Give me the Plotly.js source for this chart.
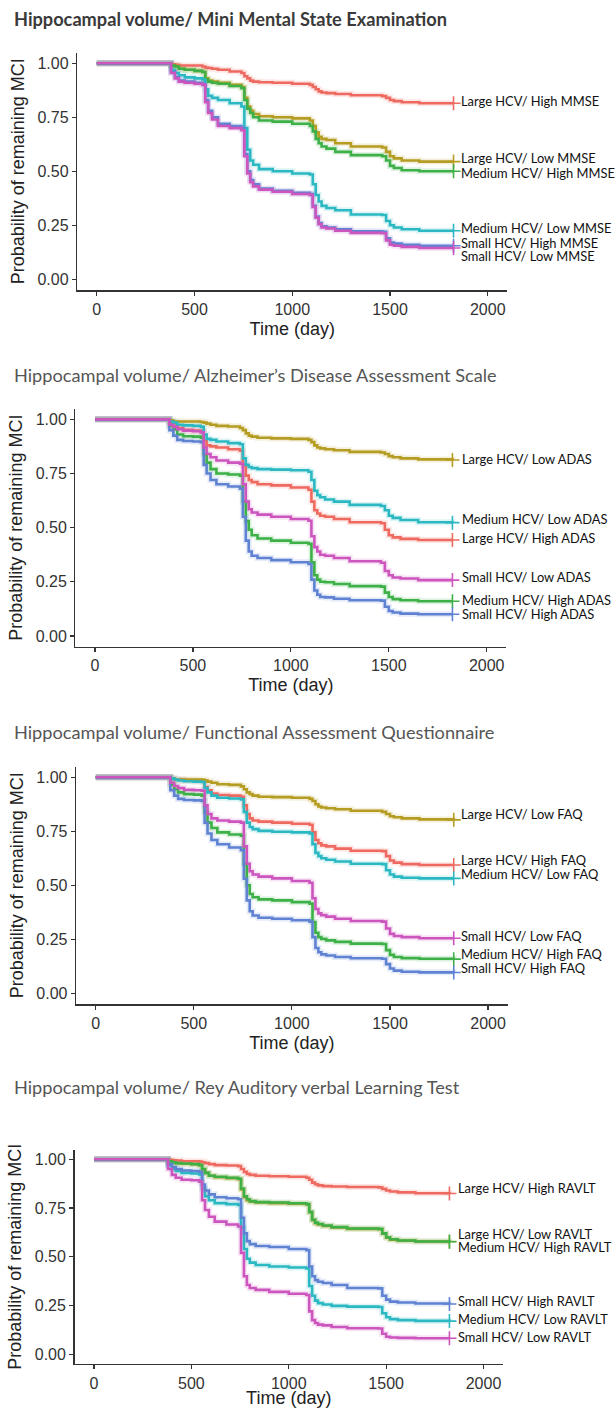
<!DOCTYPE html>
<html>
<head>
<meta charset="utf-8">
<script src="https://cdn.plot.ly/plotly-3.0.1.min.js"></script>
<style>html,body{margin:0;padding:0;background:#fff}#chart{width:616px;height:1408px}</style>
</head>
<body>
<div id="chart"></div>
<script>
// ---------- data ----------
const days = [0,365,380,400,420,450,500,540,555,570,590,620,680,740,755,770,785,800,830,900,1000,1090,1105,1120,1135,1150,1175,1220,1300,1460,1480,1500,1520,1560,1650,1825];
const xTicks = [0,500,1000,1500,2000];
const yTicks = [0,0.25,0.5,0.75,1];
const yTickText = ["0.00","0.25","0.50","0.75","1.00"];

// Panel 1: Mini Mental State Examination
const mmseTitle = "Hippocampal volume/ Mini Mental State Examination";
const mmseNames = ["Large HCV/ High MMSE","Large HCV/ Low MMSE","Medium HCV/ High MMSE","Medium HCV/ Low MMSE","Small HCV/ High MMSE","Small HCV/ Low MMSE"];
const mmseLargeHigh  = [1,1,.995,.993,.99,.99,.99,.985,.98,.978,.975,.97,.962,.955,.94,.93,.92,.915,.912,.91,.905,.90,.89,.88,.87,.865,.862,.858,.852,.848,.84,.83,.825,.82,.815,.815];
const mmseLargeLow   = [1,1,.99,.985,.975,.97,.965,.96,.93,.92,.915,.91,.90,.89,.84,.80,.78,.765,.755,.75,.745,.735,.71,.68,.66,.65,.645,.63,.615,.61,.59,.57,.56,.55,.545,.545];
const mmseMediumHigh = [1,1,.99,.985,.975,.97,.965,.96,.925,.915,.91,.905,.895,.885,.83,.79,.77,.75,.735,.73,.72,.71,.685,.65,.63,.615,.605,.59,.575,.57,.55,.525,.515,.505,.50,.50];
const mmseMediumLow  = [1,1,.97,.955,.945,.935,.93,.925,.88,.85,.84,.83,.815,.80,.70,.60,.55,.53,.51,.50,.49,.485,.44,.39,.36,.34,.33,.32,.30,.298,.27,.25,.24,.232,.225,.225];
const mmseSmallHigh  = [1,1,.96,.935,.92,.915,.91,.905,.83,.78,.75,.72,.71,.70,.58,.50,.46,.44,.42,.41,.40,.395,.34,.29,.26,.245,.24,.232,.222,.22,.19,.17,.165,.16,.155,.155];
const mmseSmallLow   = [1,1,.955,.93,.915,.91,.905,.90,.82,.77,.74,.71,.70,.69,.57,.49,.45,.43,.415,.405,.395,.39,.335,.285,.255,.24,.235,.225,.215,.213,.18,.16,.155,.15,.145,.145];
const mmseLabelY = [0.825,0.560,0.491,0.239,0.166,0.108];

// Panel 2: Alzheimer's Disease Assessment Scale
const adasTitle = "Hippocampal volume/ Alzheimer\u2019s Disease Assessment Scale";
const adasNames = ["Large HCV/ High ADAS","Large HCV/ Low ADAS","Medium HCV/ High ADAS","Medium HCV/ Low ADAS","Small HCV/ High ADAS","Small HCV/ Low ADAS"];
const adasLargeHigh  = [1,1,.985,.97,.96,.952,.948,.945,.90,.88,.875,.87,.862,.855,.79,.74,.72,.71,.70,.695,.685,.675,.62,.58,.565,.555,.55,.54,.525,.52,.49,.465,.455,.448,.443,.443];
const adasLargeLow   = [1,1,.995,.99,.99,.99,.99,.988,.985,.98,.975,.97,.967,.96,.95,.935,.925,.92,.915,.912,.91,.905,.895,.88,.87,.866,.862,.857,.85,.847,.84,.83,.825,.82,.815,.812];
const adasMediumHigh = [1,1,.97,.955,.93,.922,.92,.915,.84,.80,.77,.75,.745,.74,.62,.53,.49,.465,.45,.44,.43,.425,.34,.28,.26,.25,.248,.24,.23,.228,.20,.18,.17,.165,.16,.16];
const adasMediumLow  = [1,1,.99,.985,.975,.972,.97,.965,.93,.91,.905,.898,.89,.885,.82,.79,.78,.775,.77,.768,.765,.758,.72,.67,.65,.64,.63,.62,.605,.60,.58,.555,.545,.535,.525,.523];
const adasSmallHigh  = [1,1,.95,.925,.905,.90,.898,.895,.79,.75,.72,.70,.69,.68,.55,.44,.39,.37,.36,.35,.34,.332,.26,.21,.19,.18,.178,.172,.165,.163,.135,.115,.108,.103,.10,.10];
const adasSmallLow   = [1,1,.975,.965,.955,.948,.945,.94,.87,.84,.825,.81,.80,.795,.70,.62,.585,.57,.56,.55,.54,.532,.46,.41,.39,.375,.37,.36,.345,.338,.30,.28,.27,.265,.258,.258];
const adasLabelY = [0.453,0.817,0.167,0.539,0.100,0.273];

// Panel 3: Functional Assessment Questionnaire
const faqTitle = "Hippocampal volume/ Functional Assessment Questionnaire";
const faqNames = ["Large HCV/ High FAQ","Large HCV/ Low FAQ","Medium HCV/ High FAQ","Medium HCV/ Low FAQ","Small HCV/ High FAQ","Small HCV/ Low FAQ"];
const faqLargeHigh  = [1,1,.995,.99,.99,.985,.982,.98,.955,.94,.925,.918,.915,.91,.87,.83,.81,.80,.795,.79,.785,.78,.745,.71,.695,.685,.68,.67,.66,.658,.635,.615,.605,.598,.594,.594];
const faqLargeLow   = [1,1,.995,.99,.99,.99,.99,.988,.985,.98,.975,.968,.965,.958,.945,.93,.922,.915,.91,.908,.905,.90,.89,.875,.865,.86,.857,.852,.845,.84,.83,.82,.815,.81,.805,.803];
const faqMediumHigh = [1,1,.965,.945,.93,.922,.92,.915,.84,.79,.765,.745,.735,.73,.60,.50,.46,.445,.435,.43,.422,.415,.33,.28,.26,.252,.245,.238,.23,.228,.20,.178,.168,.163,.16,.158];
const faqMediumLow  = [1,1,.995,.99,.985,.982,.98,.978,.95,.93,.915,.905,.902,.898,.84,.79,.77,.76,.752,.748,.745,.74,.69,.65,.635,.625,.618,.61,.60,.598,.57,.55,.54,.535,.532,.532];
const faqSmallHigh  = [1,1,.94,.915,.90,.895,.893,.89,.79,.74,.71,.69,.675,.662,.53,.43,.38,.36,.35,.345,.338,.332,.26,.21,.19,.18,.175,.168,.162,.16,.135,.115,.105,.10,.097,.096];
const faqSmallLow   = [1,1,.975,.96,.95,.942,.94,.938,.87,.83,.81,.80,.795,.79,.68,.60,.565,.55,.54,.532,.52,.512,.44,.39,.37,.362,.355,.345,.335,.332,.30,.275,.265,.26,.255,.255];
const faqLabelY = [0.617,0.830,0.182,0.551,0.118,0.267];

// Panel 4: Rey Auditory Verbal Learning Test
const ravltTitle = "Hippocampal volume/ Rey Auditory verbal Learning Test";
const ravltNames = ["Large HCV/ High RAVLT","Large HCV/ Low RAVLT","Medium HCV/ High RAVLT","Medium HCV/ Low RAVLT","Small HCV/ High RAVLT","Small HCV/ Low RAVLT"];
const ravltLargeHigh  = [1,1,.997,.995,.993,.99,.99,.988,.985,.98,.975,.97,.968,.965,.95,.935,.925,.92,.915,.913,.91,.905,.895,.88,.872,.866,.862,.86,.858,.856,.848,.84,.835,.83,.826,.824];
const ravltLargeLow   = [1,1,.99,.985,.98,.977,.975,.97,.948,.93,.915,.908,.903,.898,.845,.805,.79,.782,.778,.775,.772,.768,.728,.688,.672,.665,.658,.65,.643,.641,.618,.598,.588,.582,.578,.578];
const ravltMediumHigh = [1,1,.99,.985,.98,.978,.975,.97,.95,.93,.915,.91,.905,.90,.85,.81,.795,.785,.78,.778,.774,.77,.73,.69,.675,.668,.66,.652,.645,.643,.62,.60,.59,.583,.578,.577];
const ravltMediumLow  = [1,1,.97,.95,.94,.93,.927,.922,.85,.81,.79,.775,.77,.765,.65,.54,.49,.47,.458,.45,.445,.44,.35,.30,.275,.262,.255,.248,.244,.242,.21,.19,.18,.175,.171,.17];
const ravltSmallHigh  = [1,1,.975,.96,.95,.942,.94,.935,.87,.84,.82,.805,.80,.795,.70,.62,.58,.565,.555,.55,.54,.534,.45,.40,.38,.372,.365,.355,.34,.338,.30,.28,.27,.265,.26,.258];
const ravltSmallLow   = [1,1,.95,.92,.905,.895,.892,.885,.79,.74,.705,.68,.665,.655,.52,.40,.355,.34,.33,.32,.31,.304,.22,.175,.16,.152,.148,.14,.133,.132,.105,.09,.086,.084,.082,.082];
const ravltLabelY = [0.855,0.618,0.549,0.183,0.275,0.090];

// ---------- styling / geometry ----------
const colors = ['#EE6A60','#B59C22','#3DB048','#2BB8C2','#5F82D2','#CC55BE'];
const W = 616, H = 1408;
const panels = [
  {title: mmseTitle, bold: true, names: mmseNames, series: [mmseLargeHigh,mmseLargeLow,mmseMediumHigh,mmseMediumLow,mmseSmallHigh,mmseSmallLow], labelY: mmseLabelY, box: [77.2,507.3,52.5,290.1], titleY: 19, labelX: 1852},
  {title: adasTitle, bold: false, names: adasNames, series: [adasLargeHigh,adasLargeLow,adasMediumHigh,adasMediumLow,adasSmallHigh,adasSmallLow], labelY: adasLabelY, box: [75.4,506.3,408.5,646.8], titleY: 375, labelX: 1866},
  {title: faqTitle, bold: false, names: faqNames, series: [faqLargeHigh,faqLargeLow,faqMediumHigh,faqMediumLow,faqSmallHigh,faqSmallLow], labelY: faqLabelY, box: [76.1,507.7,766.5,1004.1], titleY: 731.7, labelX: 1850},
  {title: ravltTitle, bold: false, names: ravltNames, series: [ravltLargeHigh,ravltLargeLow,ravltMediumHigh,ravltMediumLow,ravltSmallHigh,ravltSmallLow], labelY: ravltLabelY, box: [74.5,503.0,1149.5,1364.0], titleY: 1086.7, labelX: 1858}
];

const traces = [];
const layout = {
  width: W, height: H,
  margin: {l:0, r:0, t:0, b:0},
  paper_bgcolor: '#ffffff', plot_bgcolor: '#ffffff',
  showlegend: false,
  font: {family: 'Liberation Sans, Arial, sans-serif', color: '#222'},
  annotations: []
};

panels.forEach((p, i) => {
  const sx = i === 0 ? '' : String(i + 1);
  const xa = 'x' + sx, ya = 'y' + sx;
  const [xl, xr, yt, yb] = p.box;
  layout['xaxis' + sx] = {
    domain: [xl / W, xr / W], anchor: ya, range: [-100, 2100],
    tickmode: 'array', tickvals: xTicks, ticks: 'outside', ticklen: 4, tickwidth: 1.2, tickcolor: '#333',
    showline: true, linecolor: '#333', linewidth: 1.4, showgrid: false, zeroline: false,
    tickfont: {size: 16, color: '#333'},
    title: {text: 'Time (day)', font: {size: 18, color: '#222'}, standoff: i === 3 ? 4 : 5}
  };
  layout['yaxis' + sx] = {
    domain: [1 - yb / H, 1 - yt / H], anchor: xa, range: [-0.05, 1.05],
    tickmode: 'array', tickvals: yTicks, ticktext: yTickText, ticks: 'outside', ticklen: 4, tickwidth: 1.2, tickcolor: '#333',
    showline: true, linecolor: '#333', linewidth: 1.4, showgrid: false, zeroline: false,
    tickfont: {size: 16, color: '#333'},
    title: {text: 'Probability of remaining MCI', font: {size: 18, color: '#222'}, standoff: 8}
  };
  // soft halo underlay
  p.series.forEach((s, k) => {
    traces.push({x: days, y: s, xaxis: xa, yaxis: ya, type: 'scatter', mode: 'lines',
      line: {shape: 'hv', color: colors[k], width: 6}, opacity: 0.16, hoverinfo: 'skip'});
  });
  p.series.forEach((s, k) => {
    traces.push({x: days, y: s, xaxis: xa, yaxis: ya, type: 'scatter', mode: 'lines', name: p.names[k],
      line: {shape: 'hv', color: colors[k], width: 2.6}});
    traces.push({x: [days[days.length - 1]], y: [s[s.length - 1]], xaxis: xa, yaxis: ya, type: 'scatter', mode: 'markers',
      marker: {symbol: 'cross-thin', size: 10, line: {color: colors[k], width: 1.6}}, hoverinfo: 'skip'});
    layout.annotations.push({xref: xa, yref: ya, x: p.labelX, y: p.labelY[k], text: p.names[k],
      xanchor: 'left', yanchor: 'middle', showarrow: false,
      font: {family: 'Lato, Open Sans, sans-serif', size: 12.9, color: '#111'}});
  });
  layout.annotations.push({xref: 'paper', yref: 'paper', x: 12 / W, y: 1 - p.titleY / H,
    xanchor: 'left', yanchor: 'middle', showarrow: false,
    text: p.bold ? '<b>' + p.title + '</b>' : p.title,
    font: {family: 'Lato, Open Sans, sans-serif', size: 18.2, color: p.bold ? '#3a3a3a' : '#555'}});
});

Plotly.newPlot('chart', traces, layout, {staticPlot: true, displayModeBar: false});
</script>
</body>
</html>
